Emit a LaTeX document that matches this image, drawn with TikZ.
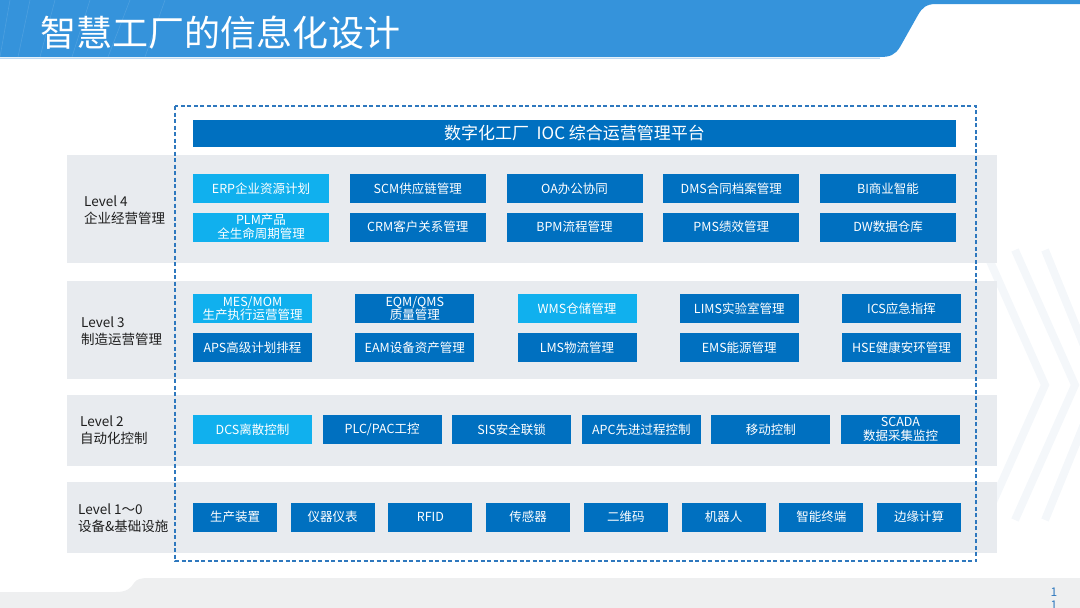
\documentclass[tikz,border=0pt]{standalone}
\usepackage{fontspec}
\setmainfont{Noto Sans CJK SC}

\definecolor{titleblue}{HTML}{3593DB}
\definecolor{titleline}{HTML}{BDD9F2}
\definecolor{panelgray}{HTML}{E8EBEF}
\definecolor{boxblue}{HTML}{0070C0}
\definecolor{boxlight}{HTML}{10B0EE}
\definecolor{framecol}{HTML}{2E78BE}
\definecolor{footgray}{HTML}{EEEFF0}
\definecolor{decocol}{HTML}{F4F7FA}
\definecolor{labeltext}{HTML}{1E1E1E}

\tikzset{
  panel/.style={fill=panelgray, draw=none},
  frame/.style={draw=framecol, line width=1.1pt, dash pattern=on 4pt off 2.5pt},
  darkbox/.style={fill=boxblue, text=white, inner sep=0pt, minimum height=29pt,
    align=center, font=\fontsize{12.5}{13.5}\selectfont},
  lightbox/.style={darkbox, fill=boxlight},
  levellabel/.style={anchor=west, align=left, text=labeltext, inner sep=0pt,
    font=\fontsize{13.5}{17}\selectfont},
  deco/.style={draw=decocol, line width=8pt}
}

\begin{document}
\begin{tikzpicture}[x=1pt,y=-1pt]
\useasboundingbox (0,0) rectangle (1080,608);

% Title bar
\fill[titleblue] (0,0) -- (1080,0) -- (1080,4) -- (936,4)
  .. controls (926,4) and (922,8) .. (918,15) -- (900,47)
  .. controls (895,55) and (890,57) .. (880,57) -- (0,57) -- cycle;
\draw[titleline, line width=1pt] (0,58) -- (880,58);
\draw[white, opacity=0.12, line width=0.6pt] (10,0) -- (0,57);
\draw[white, opacity=0.12, line width=0.6pt] (30,0) -- (18,57);
\draw[white, opacity=0.12, line width=0.6pt] (55,0) -- (40,57);
\draw[white, opacity=0.12, line width=0.6pt] (90,0) -- (72,57);
\draw[white, opacity=0.12, line width=0.6pt] (130,0) -- (108,57);
\draw[white, opacity=0.12, line width=0.6pt] (165,0) -- (145,57);
\node[anchor=west, text=white, inner sep=0pt, font=\fontsize{36}{40}\selectfont]
  (title) at (40,33) {智慧工厂的信息化设计};

% Decoration at the right
\draw[deco] (985,250) -- (1045,385) -- (985,520);
\draw[deco] (1015,250) -- (1075,385) -- (1015,520);
\draw[deco] (1045,250) -- (1100,385) -- (1045,520);

% Footer
\fill[footgray] (0,608) -- (0,592) -- (116,592)
  .. controls (127,592) and (131,588) .. (134,583)
  .. controls (137,579) and (140,578) .. (150,578) -- (1080,578) -- (1080,608) -- cycle;
\node[anchor=north, text=framecol, align=center, inner sep=0pt,
  font=\fontsize{12}{13}\selectfont] (pagenum) at (1054,588) {1\\1};

% Level panels
\fill[panel] (67,155) rectangle (997,263);
\fill[panel] (67,281) rectangle (997,379);
\fill[panel] (67,395) rectangle (997,466);
\fill[panel] (67,482) rectangle (997,553);

% Level labels
\node[levellabel] (lv4) at (84,210) {Level 4\\企业经营管理};
\node[levellabel] (lv3) at (81,331) {Level 3\\制造运营管理};
\node[levellabel] (lv2) at (80,430) {Level  2\\自动化控制};
\node[levellabel] (lv1) at (78,518) {Level  1～0\\设备\&基础设施};

% Platform
\node[darkbox, minimum width=763pt, minimum height=27pt,
  font=\fontsize{17}{19}\selectfont] (ioc) at (574.5,133.5)
  {数字化工厂\ \ IOC\ 综合运营管理平台};

% Level 4 boxes
\node[lightbox, minimum width=136pt] (erp) at (261,188.5) {ERP企业资源计划};
\node[darkbox, minimum width=136pt] (scm) at (417.75,188.5) {SCM供应链管理};
\node[darkbox, minimum width=136pt] (oa) at (574.5,188.5) {OA办公协同};
\node[darkbox, minimum width=136pt] (dms) at (731.25,188.5) {DMS合同档案管理};
\node[darkbox, minimum width=136pt] (bi) at (888,188.5) {BI商业智能};
\node[lightbox, minimum width=136pt] (plm) at (261,227) {PLM产品\\全生命周期管理};
\node[darkbox, minimum width=136pt] (crm) at (417.75,227) {CRM客户关系管理};
\node[darkbox, minimum width=136pt] (bpm) at (574.5,227) {BPM流程管理};
\node[darkbox, minimum width=136pt] (pms) at (731.25,227) {PMS绩效管理};
\node[darkbox, minimum width=136pt] (dw) at (888,227) {DW数据仓库};

% Level 3 boxes
\node[lightbox, minimum width=119pt] (mes) at (252.5,308.5) {MES/MOM\\生产执行运营管理};
\node[darkbox, minimum width=119pt] (eqm) at (414.75,308.5) {EQM/QMS\\质量管理};
\node[lightbox, minimum width=119pt] (wms) at (577,308.5) {WMS仓储管理};
\node[darkbox, minimum width=119pt] (lims) at (739.25,308.5) {LIMS实验室管理};
\node[darkbox, minimum width=119pt] (ics) at (901.5,308.5) {ICS应急指挥};
\node[darkbox, minimum width=119pt] (aps) at (252.5,347.5) {APS高级计划排程};
\node[darkbox, minimum width=119pt] (eam) at (414.75,347.5) {EAM设备资产管理};
\node[darkbox, minimum width=119pt] (lms) at (577,347.5) {LMS物流管理};
\node[darkbox, minimum width=119pt] (ems) at (739.25,347.5) {EMS能源管理};
\node[darkbox, minimum width=119pt] (hse) at (901.5,347.5) {HSE健康安环管理};

% Level 2 boxes
\node[lightbox, minimum width=119pt] (dcs) at (252.5,429.5) {DCS离散控制};
\node[darkbox, minimum width=119pt] (plc) at (382.1,429.5) {PLC/PAC工控};
\node[darkbox, minimum width=119pt] (sis) at (511.7,429.5) {SIS安全联锁};
\node[darkbox, minimum width=119pt] (apc) at (641.3,429.5) {APC先进过程控制};
\node[darkbox, minimum width=119pt] (mobile) at (770.9,429.5) {移动控制};
\node[darkbox, minimum width=119pt] (scada) at (900.5,429.5) {SCADA\\数据采集监控};

% Level 1-0 boxes
\node[darkbox, minimum width=84pt] (device) at (235,517) {生产装置};
\node[darkbox, minimum width=84pt] (meter) at (332.7,517) {仪器仪表};
\node[darkbox, minimum width=84pt] (rfid) at (430.4,517) {RFID};
\node[darkbox, minimum width=84pt] (sensor) at (528.1,517) {传感器};
\node[darkbox, minimum width=84pt] (qrcode) at (625.9,517) {二维码};
\node[darkbox, minimum width=84pt] (robot) at (723.6,517) {机器人};
\node[darkbox, minimum width=84pt] (terminal) at (821.3,517) {智能终端};
\node[darkbox, minimum width=84pt] (edge) at (919,517) {边缘计算};

% Dashed frame round the IOC scope
\draw[frame] (175,106) rectangle (976,561);
\end{tikzpicture}
\end{document}
